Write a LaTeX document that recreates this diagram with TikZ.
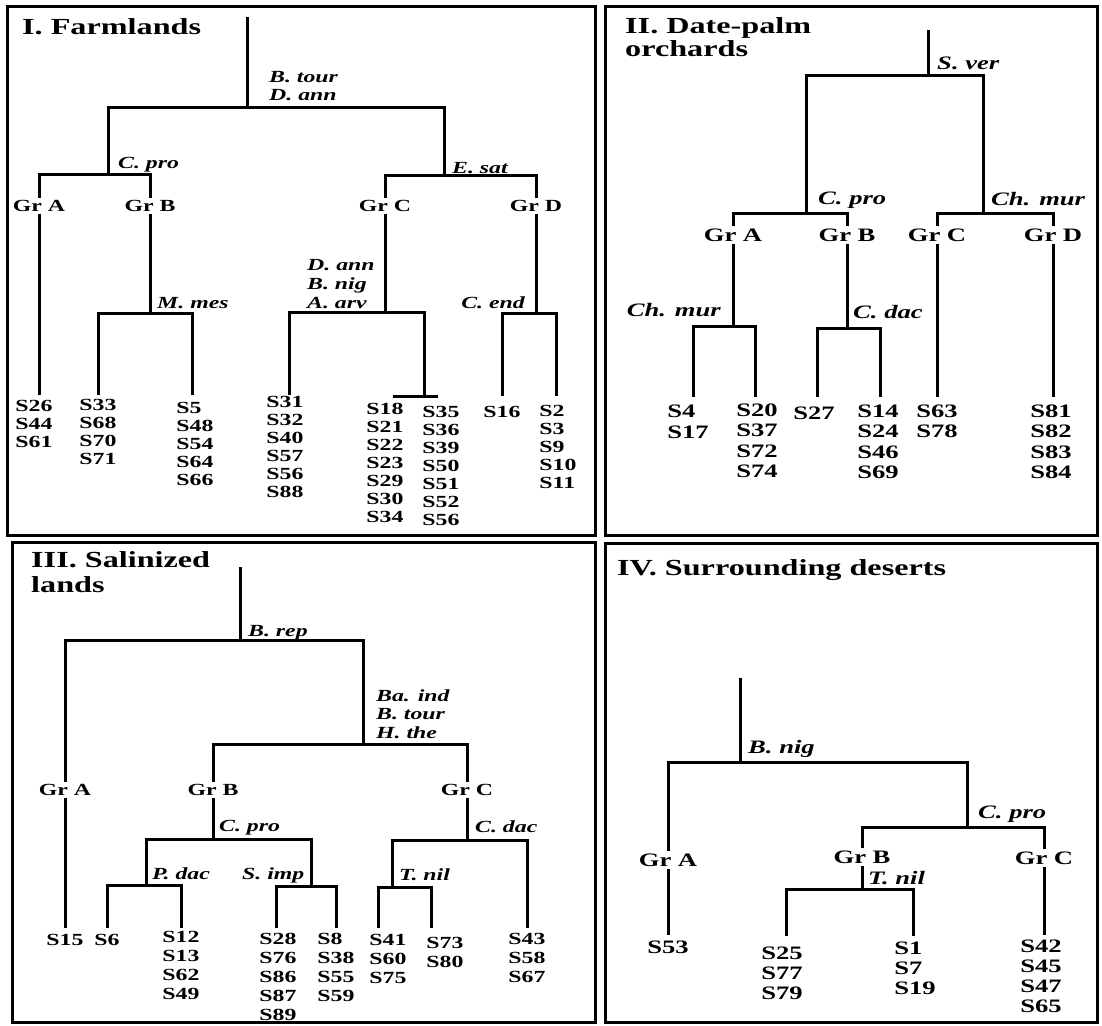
\documentclass[tikz,border=0pt]{standalone}
\usepackage{fontspec}
\setmainfont{Liberation Serif}[FakeStretch=1.4]
\usetikzlibrary{positioning}

\begin{document}
\begin{tikzpicture}[x=1pt,y=-1pt,
    branch/.style={line width=3pt},
    panel/.style={line width=3pt},
    grp/.style={font=\bfseries\fontsize{\fs}{\fs}\selectfont,inner sep=2.5pt},
    taxon/.style={font=\bfseries\itshape\fontsize{\fs}{\ts}\selectfont,inner sep=0pt,align=left},
    leaf/.style={font=\bfseries\fontsize{\fs}{\ls}\selectfont,inner sep=0pt,align=left},
    title/.style={font=\bfseries\fontsize{23}{24}\selectfont,inner sep=0pt,align=left}
]
    \useasboundingbox (0,0) rectangle (1102,1025);
    \fill[white] (0,0) rectangle (1102,1025);

    % Panel frames
    \foreach \xa/\ya/\xb/\yb in {7/7/595/535,605/7/1097/535,12/542/595/1022,605/543/1097/1022} {
        \draw[panel] (\xa,\ya) rectangle (\xb,\yb);
    }

    % ---------------- I. Farmlands ----------------
    \def\fs{17}\def\ls{18}\def\ts{17.5}
    \node[title,anchor=base west] (t1) at (22,34.6) {I. Farmlands};
    \coordinate (r1) at (247,17);
    \coordinate (j1) at (247,107);
    \coordinate (cPro1) at (108,174);
    \coordinate (cSat1) at (444,175);
    \node[grp] (grA1) at (39,206) {Gr A};
    \node[grp] (grB1) at (150,206) {Gr B};
    \node[grp] (grC1) at (385,206) {Gr C};
    \node[grp] (grD1) at (536,206) {Gr D};
    \coordinate (a1) at (39,395);
    \coordinate (cMes1) at (150,313);
    \coordinate (m1) at (98,395);
    \coordinate (m2) at (192,395);
    \coordinate (cArv1) at (385,312);
    \coordinate (c1) at (289,395);
    \coordinate (c2) at (424,396);
    \coordinate (b1) at (393,396);
    \coordinate (b2) at (438,396);
    \coordinate (cEnd1) at (536,313);
    \coordinate (d1) at (502,396);
    \coordinate (d2) at (556,396);

    \draw[branch] (r1) -- (j1);
    \draw[branch] (cPro1) |- (j1) -| (cSat1);
    \draw[branch] (grA1.north) |- (cPro1) -| (grB1.north);
    \draw[branch] (grC1.north) |- (cSat1) -| (grD1.north);
    \draw[branch] (grA1.south) -- (a1);
    \draw[branch] (grB1.south) -- (cMes1);
    \draw[branch] (m1) |- (cMes1) -| (m2);
    \draw[branch] (grC1.south) -- (cArv1);
    \draw[branch] (c1) |- (cArv1) -| (c2);
    \draw[branch] (b1) -- (b2);
    \draw[branch] (grD1.south) -- (cEnd1);
    \draw[branch] (d1) |- (cEnd1) -| (d2);

    \node[taxon,anchor=north west] (tx1) at (269,71.5) {B. tour\\D. ann};
    \node[taxon,anchor=base west] (tx2) at (118,168.6) {C. pro};
    \node[taxon,anchor=base west] (tx3) at (452,173.6) {E. sat};
    \node[taxon,anchor=base west] (tx4) at (157,308.6) {M. mes};
    \node[taxon,anchor=north west] (tx5) at (307,259.4) {D. ann\\[1.5pt]B. nig\\[1.5pt]A. arv};
    \node[taxon,anchor=base east] (tx6) at (525,308.6) {C. end};

    \node[leaf,below=5pt of a1,xshift=-5pt] (s1a) {S26\\S44\\S61};
    \node[leaf,below=4pt of m1] (s1b) {S33\\S68\\S70\\S71};
    \node[leaf,below=7pt of m2,xshift=3pt] (s1c) {S5\\S48\\S54\\S64\\S66};
    \node[leaf,below=1pt of c1,xshift=-4pt] (s1d) {S31\\S32\\S40\\S57\\S56\\S88};
    \node[leaf,below=7pt of b1,xshift=-8pt] (s1e) {S18\\S21\\S22\\S23\\S29\\S30\\S34};
    \node[leaf,below=10pt of b2,xshift=3pt] (s1f) {S35\\S36\\S39\\S50\\S51\\S52\\S56};
    \node[leaf,below=10pt of d1] (s1g) {S16};
    \node[leaf,below=9pt of d2,xshift=2pt] (s1h) {S2\\S3\\S9\\S10\\S11};

    % ---------------- II. Date-palm orchards ----------------
    \def\fs{19}\def\ls{20.5}\def\ts{20}
    \node[title,anchor=north west] (t2) at (625,17.4) {II. Date-palm\\[-1pt]orchards};
    \coordinate (r2) at (928,30);
    \coordinate (j2) at (928,75);
    \coordinate (cPro2) at (806,213);
    \coordinate (cMur2) at (983,213);
    \node[grp] (grA2) at (733,235) {Gr A};
    \node[grp] (grB2) at (847,235) {Gr B};
    \node[grp] (grC2) at (937,235) {Gr C};
    \node[grp] (grD2) at (1053,235) {Gr D};
    \coordinate (cMurA2) at (733,326);
    \coordinate (e1) at (693,397);
    \coordinate (e2) at (755,397);
    \coordinate (cDac2) at (847,328);
    \coordinate (f1) at (817,397);
    \coordinate (f2) at (880,397);
    \coordinate (g1) at (937,397);
    \coordinate (h1) at (1053,397);

    \draw[branch] (r2) -- (j2);
    \draw[branch] (cPro2) |- (j2) -| (cMur2);
    \draw[branch] (grA2.north) |- (cPro2) -| (grB2.north);
    \draw[branch] (grC2.north) |- (cMur2) -| (grD2.north);
    \draw[branch] (grA2.south) -- (cMurA2);
    \draw[branch] (e1) |- (cMurA2) -| (e2);
    \draw[branch] (grB2.south) -- (cDac2);
    \draw[branch] (f1) |- (cDac2) -| (f2);
    \draw[branch] (grC2.south) -- (g1);
    \draw[branch] (grD2.south) -- (h1);

    \node[taxon,anchor=base west] (tx7) at (937,69.3) {S. ver};
    \node[taxon,anchor=base west] (tx8) at (818,204.3) {C. pro};
    \node[taxon,anchor=base west] (tx9) at (991,205.3) {Ch. mur};
    \node[taxon,anchor=base east] (tx10) at (721,316.3) {Ch. mur};
    \node[taxon,anchor=base west] (tx11) at (853,318.3) {C. dac};

    \node[leaf,below=8pt of e1,xshift=-5pt] (s2a) {S4\\S17};
    \node[leaf,below=6.5pt of e2,xshift=2pt] (s2b) {S20\\S37\\S72\\S74};
    \node[leaf,below=9.5pt of f1,xshift=-3pt] (s2c) {S27};
    \node[leaf,below=7.5pt of f2,xshift=-2pt] (s2d) {S14\\S24\\S46\\S69};
    \node[leaf,below=7.5pt of g1] (s2e) {S63\\S78};
    \node[leaf,below=7.5pt of h1,xshift=-2pt] (s2f) {S81\\S82\\S83\\S84};

    % ---------------- III. Salinized lands ----------------
    \def\fs{17}\def\ls{19}\def\ts{18.5}
    \node[title,anchor=north west] (t3) at (31,551.4) {III. Salinized\\[1pt]lands};
    \coordinate (r3) at (240,567);
    \coordinate (j3) at (240,640);
    \coordinate (cInd3) at (363,744);
    \node[grp] (grA3) at (65,790) {Gr A};
    \node[grp] (grB3) at (213,790) {Gr B};
    \node[grp] (grC3) at (467,790) {Gr C};
    \coordinate (a3) at (65,928);
    \coordinate (cPro3) at (213,839);
    \coordinate (cPdac3) at (146,885);
    \coordinate (cImp3) at (311,886);
    \coordinate (p1) at (107,928);
    \coordinate (p2) at (181,928);
    \coordinate (q1) at (276,928);
    \coordinate (q2) at (336,928);
    \coordinate (cDac3) at (467,840);
    \coordinate (cNil3) at (392,887);
    \coordinate (u1) at (378,928);
    \coordinate (u2) at (431,928);
    \coordinate (k3) at (527,928);

    \draw[branch] (r3) -- (j3);
    \draw[branch] (grA3.north) |- (j3) -| (cInd3);
    \draw[branch] (grB3.north) |- (cInd3) -| (grC3.north);
    \draw[branch] (grA3.south) -- (a3);
    \draw[branch] (grB3.south) -- (cPro3);
    \draw[branch] (cPdac3) |- (cPro3) -| (cImp3);
    \draw[branch] (p1) |- (cPdac3) -| (p2);
    \draw[branch] (q1) |- (cImp3) -| (q2);
    \draw[branch] (grC3.south) -- (cDac3);
    \draw[branch] (cNil3) |- (cDac3) -| (k3);
    \draw[branch] (u1) |- (cNil3) -| (u2);

    \node[taxon,anchor=base west] (tx12) at (248,636.6) {B. rep};
    \node[taxon,anchor=north west] (tx13) at (376,689.4) {Ba. ind\\B. tour\\H. the};
    \node[taxon,anchor=base west] (tx14) at (219,831.6) {C. pro};
    \node[taxon,anchor=base west] (tx15) at (152,879.6) {P. dac};
    \node[taxon,anchor=base west] (tx16) at (242,879.6) {S. imp};
    \node[taxon,anchor=base west] (tx17) at (475,832.6) {C. dac};
    \node[taxon,anchor=base west] (tx18) at (399,880.6) {T. nil};

    \node[leaf,below=6pt of a3] (s3a) {S15};
    \node[leaf,below=6pt of p1] (s3b) {S6};
    \node[leaf,below=3pt of p2] (s3c) {S12\\S13\\S62\\S49};
    \node[leaf,below=5pt of q1,xshift=2pt] (s3d) {S28\\S76\\S86\\S87\\S89};
    \node[leaf,below=5pt of q2] (s3e) {S8\\S38\\S55\\S59};
    \node[leaf,below=6pt of u1,xshift=10pt] (s3f) {S41\\S60\\S75};
    \node[leaf,below=9pt of u2,xshift=14pt] (s3g) {S73\\S80};
    \node[leaf,below=5pt of k3] (s3h) {S43\\S58\\S67};

    % ---------------- IV. Surrounding deserts ----------------
    \def\fs{19}\def\ls{20}\def\ts{20}
    \node[title,anchor=base west] (t4) at (617,575.6) {IV. Surrounding deserts};
    \coordinate (r4) at (740,678);
    \coordinate (j4) at (740,762);
    \coordinate (cPro4) at (967,827);
    \node[grp] (grA4) at (668,860) {Gr A};
    \node[grp] (grB4) at (862,857) {Gr B};
    \node[grp] (grC4) at (1044,858) {Gr C};
    \coordinate (a4) at (668,935);
    \coordinate (cNil4) at (862,889);
    \coordinate (v1) at (786,936);
    \coordinate (v2) at (913,936);
    \coordinate (w4) at (1044,935);

    \draw[branch] (r4) -- (j4);
    \draw[branch] (grA4.north) |- (j4) -| (cPro4);
    \draw[branch] (grB4.north) |- (cPro4) -| (grC4.north);
    \draw[branch] (grA4.south) -- (a4);
    \draw[branch] (grB4.south) -- (cNil4);
    \draw[branch] (v1) |- (cNil4) -| (v2);
    \draw[branch] (grC4.south) -- (w4);

    \node[taxon,anchor=base west] (tx19) at (748,753.3) {B. nig};
    \node[taxon,anchor=base west] (tx20) at (978,818.3) {C. pro};
    \node[taxon,anchor=base west] (tx21) at (868,884.3) {T. nil};

    \node[leaf,below=5.5pt of a4] (s4a) {S53};
    \node[leaf,below=10.5pt of v1,xshift=-4pt] (s4b) {S25\\S77\\S79};
    \node[leaf,below=5.5pt of v2,xshift=2pt] (s4c) {S1\\S7\\S19};
    \node[leaf,below=4.5pt of w4,xshift=-3pt] (s4d) {S42\\S45\\S47\\S65};
\end{tikzpicture}
\end{document}
